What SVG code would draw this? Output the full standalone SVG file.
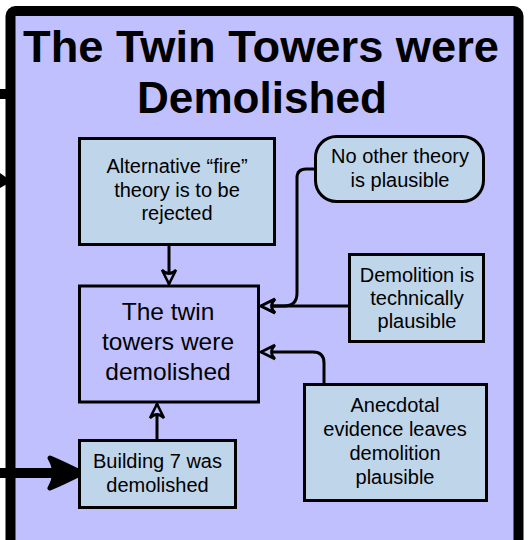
<svg xmlns="http://www.w3.org/2000/svg" width="529" height="540" viewBox="0 0 529 540">
<defs>
<style>
.box{fill:#BFD5EA;stroke:#000;stroke-width:3}
.main{fill:#C0C0FF;stroke:#000;stroke-width:3}
.t{font-family:"Liberation Sans",Arial,sans-serif;font-size:20px;fill:#000;text-anchor:middle}
.tm{font-family:"Liberation Sans",Arial,sans-serif;font-size:24.5px;fill:#000;text-anchor:middle}
.title{font-family:"Liberation Sans",Arial,sans-serif;font-size:44.5px;font-weight:bold;fill:#000;text-anchor:middle}
.c{fill:none;stroke:#000;stroke-width:3;marker-end:url(#open)}
</style>
<marker id="open" viewBox="-16 -9 18 18" refX="0" refY="0" markerWidth="18" markerHeight="18" markerUnits="userSpaceOnUse" orient="auto">
<path d="M0,0 L-14,-7 Q-7,0 -14,7 Z" fill="#C0C0FF" stroke="#000" stroke-width="2.6" stroke-linejoin="miter"/>
</marker>
</defs>
<g id="container">
<rect x="10.5" y="11" width="508" height="535" rx="5" fill="#C0C0FF" stroke="#000" stroke-width="10"/>
<text class="title" x="261" y="62" textLength="476" lengthAdjust="spacingAndGlyphs">The Twin Towers were</text>
<text class="title" x="262" y="113" textLength="250" lengthAdjust="spacingAndGlyphs">Demolished</text>
</g>
<g id="stubs">
<rect x="0" y="89" width="7" height="10" fill="#000"/>
<polygon points="0,173 7,178 7,184 0,188" fill="#000"/>
</g>
<g id="connectors">
<path class="c" d="M169,246 V284"/>
<path class="c" d="M314,169 H306 Q297,169 297,178 V293 Q297,306 284,306 H261"/>
<path class="c" d="M348,306 H261"/>
<path class="c" d="M324,383 V363 Q324,352 313,352 H261"/>
<path class="c" d="M157,439 V404"/>
<path d="M0,473 H60" fill="none" stroke="#000" stroke-width="10"/>
<path d="M82,473 Q62,463 50,458 Q59,473 50,488 Q62,483 82,473 Z" fill="#000" stroke="#000" stroke-width="5" stroke-linejoin="round"/>
</g>
<g id="alt-fire">
<rect class="box" x="79.5" y="138.5" width="195" height="106"/>
<text class="t" x="177" y="173">Alternative “fire”</text>
<text class="t" x="177" y="197">theory is to be</text>
<text class="t" x="177" y="220">rejected</text>
</g>
<g id="no-other">
<rect class="box" x="315.5" y="136.5" width="168" height="65" rx="21"/>
<text class="t" x="400" y="163">No other theory</text>
<text class="t" x="400" y="187">is plausible</text>
</g>
<g id="demolition-plausible">
<rect class="box" x="349.5" y="254.5" width="134" height="87"/>
<text class="t" x="417" y="282">Demolition is</text>
<text class="t" x="417" y="305">technically</text>
<text class="t" x="417" y="328">plausible</text>
</g>
<g id="main">
<rect class="main" x="79.5" y="286" width="179" height="116"/>
<text class="tm" x="168" y="320">The twin</text>
<text class="tm" x="168" y="350">towers were</text>
<text class="tm" x="168" y="380">demolished</text>
</g>
<g id="anecdotal">
<rect class="box" x="304.5" y="384.5" width="182" height="116"/>
<text class="t" x="395" y="412">Anecdotal</text>
<text class="t" x="395" y="436">evidence leaves</text>
<text class="t" x="395" y="460">demolition</text>
<text class="t" x="395" y="484">plausible</text>
</g>
<g id="building7">
<rect class="box" x="79.5" y="440.5" width="156" height="67"/>
<text class="t" x="157.5" y="468">Building 7 was</text>
<text class="t" x="157.5" y="492">demolished</text>
</g>
</svg>
